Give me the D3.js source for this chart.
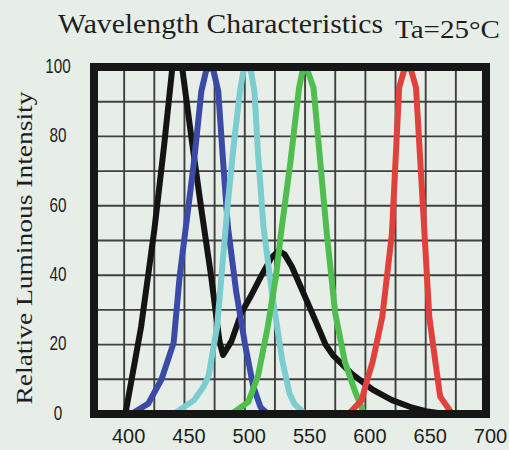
<!doctype html>
<html>

<head>
    <script src="https://cdnjs.cloudflare.com/ajax/libs/d3/7.8.5/d3.min.js" type="text/JavaScript"></script>
    <style>
        body {
            margin: 0;
            background: #e7eee8;
        }

        .serif {
            font-family: "Liberation Serif", "Times New Roman", Times, serif;
        }
    </style>
</head>

<body>
    <div id="viz"></div>
    <script>
        // spectra: [wavelength (nm), relative intensity (%)]
        var black = [[401, 0], [414, 25], [425, 53], [433, 77], [440, 100], [444, 112], [448, 100], [456, 79], [464, 59], [472, 40],
            [479, 21], [482, 17], [489, 21], [497, 29], [505, 34], [514, 40], [522, 45], [528, 47], [533, 46], [539, 42.5],
            [556, 29], [567, 20], [573, 17], [589, 11.5], [606, 7], [622, 4], [639, 1.8], [650, 0.8], [666, 0]];
        var blue = [[406, 0], [420, 3], [431, 10], [441, 20.5], [446, 39.6], [453, 59], [458, 73], [464, 93], [468, 99], [471, 100],
            [474, 99], [478, 93], [482, 73], [486, 54], [493, 35], [500, 20.5], [507, 8], [513, 2], [519, 0]];
        var cyan = [[441, 0], [458, 4], [466, 8], [470, 11], [477, 25], [482, 45], [486, 61], [491, 78], [496, 93], [499, 99], [502, 100],
            [505, 99], [508, 93], [511, 75], [515.5, 54], [522.5, 35], [531, 15.6], [537, 6], [541, 3], [550, 0]];
        var green = [[489, 0], [503, 3.5], [511, 11], [519, 25], [526, 40], [530, 52], [538, 73], [545, 94], [548, 99], [550, 100],
            [552, 99], [557, 94], [568, 52], [575, 29], [583, 15], [592, 6], [599, 0]];
        var red = [[586, 0], [597, 4], [600, 8], [606, 15], [614, 28], [622, 52], [628, 94], [632, 99], [635, 100],
            [638, 99], [642, 94], [649, 52], [653, 28], [658, 15], [662, 5], [670, 1]];

        var xTicks = [400, 450, 500, 550, 600, 650, 700];
        var yTicks = [0, 20, 40, 60, 80, 100];

        var width = 509, height = 450;

        var svg = d3.select("#viz")
            .append("svg")
            .attr("width", width)
            .attr("height", height);

        var x = d3.scaleLinear().domain([375, 700]).range([94, 486]);
        var y = d3.scaleLinear().domain([0, 100]).range([414, 67]);

        // grid
        svg.append("g").selectAll("line")
            .data(d3.range(400, 700, 25))
            .enter().append("line")
            .attr("x1", d => x(d)).attr("x2", d => x(d))
            .attr("y1", y(0)).attr("y2", y(100))
            .attr("stroke", "#404040")
            .attr("stroke-width", 1.9);

        svg.append("g").selectAll("line")
            .data(d3.range(10, 100, 10))
            .enter().append("line")
            .attr("x1", x(375)).attr("x2", x(700))
            .attr("y1", d => y(d)).attr("y2", d => y(d))
            .attr("stroke", "#404040")
            .attr("stroke-width", 1.9);

        // curves, clipped to the frame
        svg.append("clipPath").attr("id", "plotClip")
            .append("rect")
            .attr("x", x(375)).attr("y", y(100))
            .attr("width", x(700) - x(375)).attr("height", y(0) - y(100));

        var line = d3.line()
            .x(d => x(d[0]))
            .y(d => y(d[1]));

        var series = [
            { data: black, color: "#141414" },
            { data: blue, color: "#3b4aa6" },
            { data: cyan, color: "#7ccdcf" },
            { data: green, color: "#50be4e" },
            { data: red, color: "#e1413d" }
        ];

        svg.append("g").attr("clip-path", "url(#plotClip)")
            .selectAll("path")
            .data(series)
            .enter().append("path")
            .attr("d", d => line(d.data))
            .attr("fill", "none")
            .attr("stroke", d => d.color)
            .attr("stroke-width", 6)
            .attr("stroke-linejoin", "round")
            .attr("stroke-linecap", "round");

        // thick frame
        svg.append("rect")
            .attr("x", x(375)).attr("y", y(100))
            .attr("width", x(700) - x(375)).attr("height", y(0) - y(100))
            .attr("fill", "none")
            .attr("stroke", "#161616")
            .attr("stroke-width", 8);

        // x axis labels
        var xAxis = svg.append("g")
            .attr("transform", "translate(0," + y(0) + ")")
            .call(d3.axisBottom(x).tickValues(xTicks).tickSize(0).tickPadding(15));
        xAxis.select(".domain").remove();
        xAxis.selectAll("text")
            .attr("dx", 4)
            .style("font-family", "'Liberation Sans', Arial, sans-serif")
            .style("font-size", "20px")
            .style("fill", "#1e1e1e");

        // y axis labels (narrow digits)
        var yAxis = svg.append("g")
            .attr("transform", "translate(58,0)")
            .call(d3.axisLeft(y).tickValues(yTicks).tickSize(0).tickPadding(0));
        yAxis.select(".domain").remove();
        yAxis.selectAll("text")
            .attr("x", 0)
            .attr("dy", "0.25em")
            .style("text-anchor", "middle")
            .style("font-family", "'Liberation Sans', Arial, sans-serif")
            .style("font-size", "21px")
            .style("fill", "#1e1e1e")
            .attr("textLength", d => String(d).length * 8.5)
            .attr("lengthAdjust", "spacingAndGlyphs");

        // titles
        svg.append("text")
            .attr("class", "serif")
            .attr("x", 58).attr("y", 33)
            .attr("textLength", 325)
            .attr("lengthAdjust", "spacingAndGlyphs")
            .style("font-size", "28px")
            .style("fill", "#1e1e1e")
            .text("Wavelength Characteristics");

        svg.append("text")
            .attr("class", "serif")
            .attr("x", 395).attr("y", 38)
            .attr("textLength", 105)
            .attr("lengthAdjust", "spacingAndGlyphs")
            .style("font-size", "26px")
            .style("fill", "#1e1e1e")
            .text("Ta=25°C");

        svg.append("text")
            .attr("class", "serif")
            .attr("transform", "translate(32,248) rotate(-90)")
            .attr("text-anchor", "middle")
            .attr("textLength", 313)
            .attr("lengthAdjust", "spacingAndGlyphs")
            .style("font-size", "24px")
            .style("fill", "#1e1e1e")
            .text("Relative Luminous Intensity");
    </script>
</body>

</html>
